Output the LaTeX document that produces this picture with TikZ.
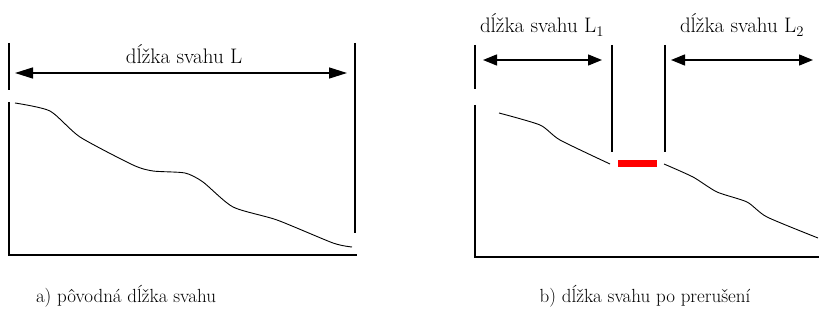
\documentclass[tikz,border=0pt]{standalone}
\usetikzlibrary{arrows.meta}
\begin{document}
\begin{tikzpicture}[x=1pt,y=-1pt,
    dim/.style={{Triangle[length=#1,width=11pt]}-{Triangle[length=#1,width=11pt]}, line width=1.4pt},
    dim/.default=14pt,
    axis/.style={line width=1.5pt},
    markline/.style={line width=1.3pt},
    slope/.style={line width=0.9pt},
    toplabel/.style={font=\fontsize{21}{25}\selectfont},
    caption/.style={font=\fontsize{19}{23}\selectfont}]
    \useasboundingbox (0,0) rectangle (819,320);
    % a) original slope
    \coordinate (A0) at (9,102);
    \coordinate (A1) at (9,255);
    \coordinate (A2) at (357,255);
    \draw[markline] (9,43) -- (9,90);
    \draw[markline] (355,43) -- (355,233);
    \draw[axis] (A0) -- (A1) -- (A2);
    \coordinate (La) at (15,73);
    \coordinate (Lb) at (347,73);
    \draw[dim=18pt] (La) -- (Lb);
    \node[toplabel] (L) at (184,54) {dĺžka svahu L};
    \draw[slope] plot[smooth, tension=0.4] coordinates {(15,103) (50,111) (80,137) (133,165)
        (153,171) (185,173) (203,182) (233,207) (277,220) (333,243) (352,247)};
    \node[caption] (capA) at (126,296) {a) pôvodná dĺžka svahu};
    % b) slope after the break
    \coordinate (B0) at (475,105);
    \coordinate (B1) at (475,257);
    \coordinate (B2) at (819,257);
    \draw[markline] (475,45) -- (475,89);
    \draw[markline] (612,45) -- (612,152);
    \draw[markline] (665,45) -- (665,152);
    \draw[axis] (B0) -- (B1) -- (B2);
    \coordinate (L1a) at (483,60);
    \coordinate (L1b) at (602,60);
    \coordinate (L2a) at (671,60);
    \coordinate (L2b) at (813,60);
    \draw[dim] (L1a) -- (L1b);
    \draw[dim] (L2a) -- (L2b);
    \node[toplabel] (L1) at (542,25) {dĺžka svahu L\textsubscript{1}};
    \node[toplabel] (L2) at (742,25) {dĺžka svahu L\textsubscript{2}};
    \draw[slope] plot[smooth, tension=0.4] coordinates {(499,113) (540,125) (560,140) (610,164)};
    \fill[red] (618,160.5) rectangle (657,167.5);
    \draw[slope] plot[smooth, tension=0.4] coordinates {(664,164) (693,177) (717,192) (747,202)
        (767,217) (818,238)};
    \node[caption] (capB) at (645,296) {b) dĺžka svahu po prerušení};
\end{tikzpicture}
\end{document}
